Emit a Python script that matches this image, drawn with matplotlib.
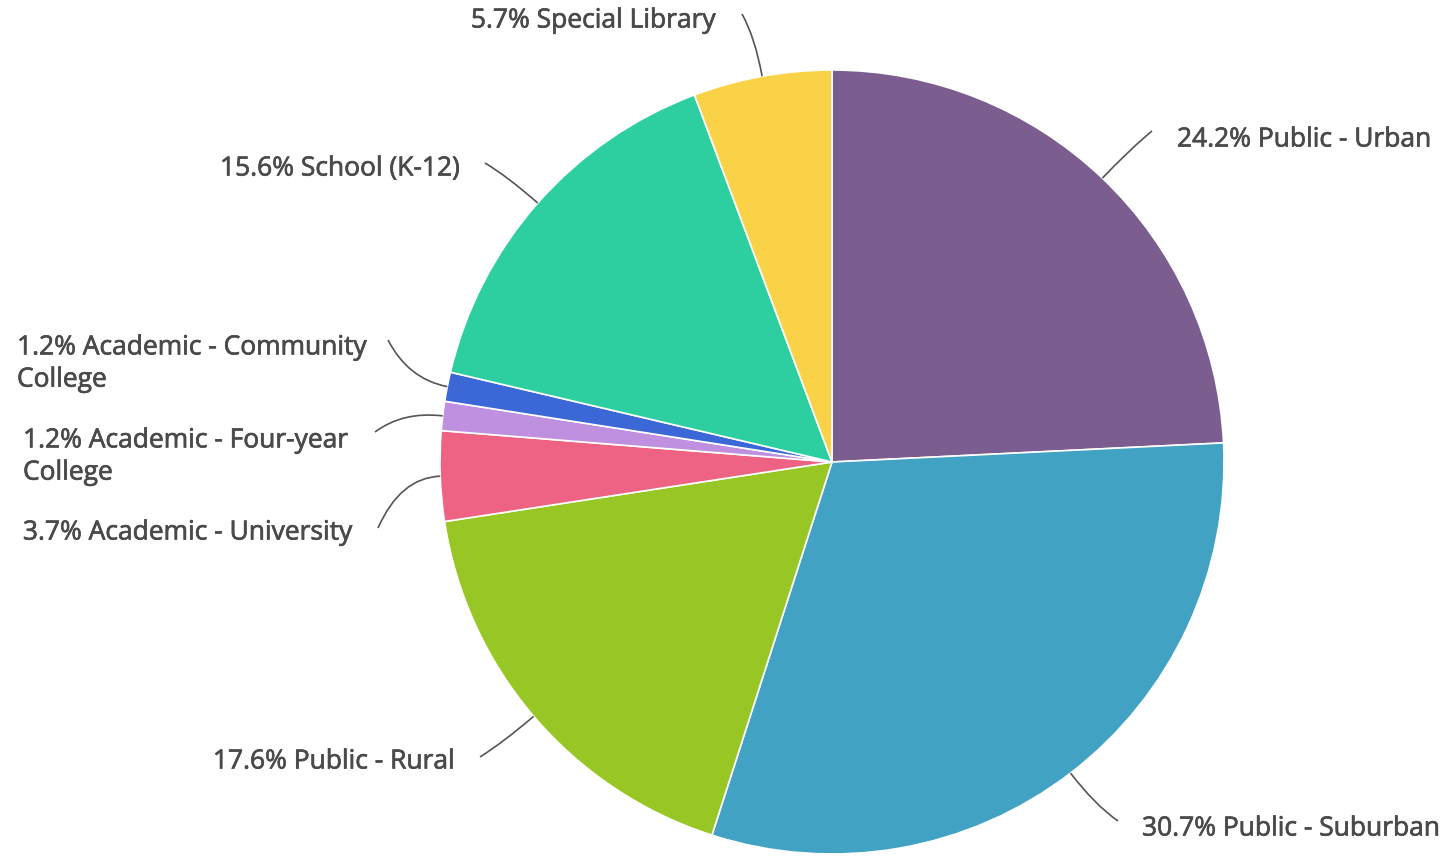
import numpy as np
import matplotlib
matplotlib.use("Agg")
import matplotlib.pyplot as plt
import matplotlib.patheffects as pe
from matplotlib.path import Path
from matplotlib.patches import PathPatch

# data, clockwise from 12 o'clock
labels = ["Public - Urban", "Public - Suburban", "Public - Rural",
          "Academic - University", "Academic - Four-year\nCollege",
          "Academic - Community\nCollege", "School (K-12)", "Special Library"]
shares = [24.2, 30.7, 17.6, 3.7, 1.2, 1.2, 15.6, 5.7]
colors = ["#7b5e8f", "#41a2c3", "#97c625", "#ee6384", "#bf8fe0",
          "#3c67d6", "#2dcfa1", "#f9d247"]

# layout (pixels, y down): label anchor, alignment, connector end
label_pos = [(1177, 140), (1142, 829), (455, 762), (352, 533),
             (23, 457), (17, 364), (460, 169), (716, 21)]
label_ha = ["left", "left", "right", "right", "left", "left", "right", "right"]
line_end = [(1152, 131), (1118, 821), (480, 757), (378, 528),
            (375, 432), (388, 340), (485, 163), (742, 14)]

W, H = 1447, 857
cx, cy, R = 832, 462, 392

def fy(y):
    return H - y

fig = plt.figure(figsize=(W / 100, H / 100), dpi=100)
ax = fig.add_axes([0, 0, 1, 1])

wedges, _ = ax.pie(shares, colors=colors, startangle=90, counterclock=False,
                   center=(cx, fy(cy)), radius=R,
                   wedgeprops=dict(edgecolor="white", linewidth=1.2))
ax.set_xlim(0, W)
ax.set_ylim(0, H)
ax.set_aspect("equal")
ax.axis("off")

text_color = "#4a4a4a"
for w, lab, val, (tx, ty), ha, (ex, ey) in zip(wedges, labels, shares,
                                              label_pos, label_ha, line_end):
    mid = np.deg2rad((w.theta1 + w.theta2) / 2)
    ux, uy = np.cos(mid), np.sin(mid)
    p0 = (cx + R * ux, fy(cy) + R * uy)
    p1 = (cx + (R + 40) * ux, fy(cy) + (R + 40) * uy)
    p2 = (ex, fy(ey))
    path = Path([p0, p1, p2], [Path.MOVETO, Path.CURVE3, Path.CURVE3])
    ax.add_patch(PathPatch(path, fill=False, edgecolor="#555555", lw=1.2))
    ax.text(tx, fy(ty), f"{val}% {lab}", ha=ha, va="center",
            fontsize=19, color=text_color, family="Open Sans",
            linespacing=1.38,
            path_effects=[pe.withStroke(linewidth=0.5, foreground=text_color)])

fig.savefig("out.png", dpi=100, facecolor="white")
